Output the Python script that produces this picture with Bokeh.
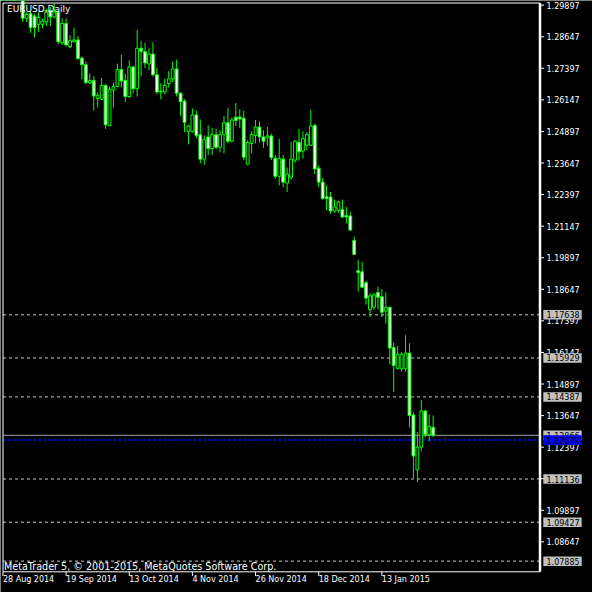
from bokeh.plotting import figure
from bokeh.models import Range1d
from bokeh.core.properties import value
from bokeh.embed import file_html
from bokeh.resources import INLINE

# ---- data: EURUSD daily bars, bar index 0 = 28 Aug 2014 ----
opens = [1.3190, 1.3180, 1.3135, 1.3130, 1.3128, 1.3150, 1.2938, 1.2956, 1.2946, 1.2914,
         1.2914, 1.2923, 1.2969, 1.2943, 1.2962, 1.2841, 1.2917, 1.2826, 1.2845, 1.2852,
         1.2780, 1.2754, 1.2683, 1.2692, 1.2620, 1.2617, 1.2672, 1.2512, 1.2653, 1.2668,
         1.2735, 1.2692, 1.2628, 1.2745, 1.2659, 1.2819, 1.2806, 1.2757, 1.2796, 1.2714,
         1.2649, 1.2646, 1.2679, 1.2698, 1.2737, 1.2641, 1.2610, 1.2490, 1.2490, 1.2555,
         1.2477, 1.2380, 1.2468, 1.2422, 1.2477, 1.2427, 1.2477, 1.2524, 1.2451, 1.2546,
         1.2547, 1.2542, 1.2360, 1.2442, 1.2474, 1.2507, 1.2468, 1.2464, 1.2472, 1.2383,
         1.2312, 1.2380, 1.2285, 1.2308, 1.2376, 1.2446, 1.2412, 1.2435, 1.2435, 1.2513,
         1.2344, 1.2289, 1.2231, 1.2230, 1.2175, 1.2177, 1.2181, 1.2157, 1.2155, 1.2058,
         1.1938, 1.1934, 1.1891, 1.1784, 1.1794, 1.1852, 1.1836, 1.1778, 1.1793, 1.1634,
         1.1552, 1.1550, 1.1550, 1.1612, 1.1367, 1.1150, 1.1240, 1.1383, 1.1289, 1.1318]
highs = [1.3205, 1.3190, 1.3150, 1.3145, 1.3170, 1.3160, 1.2962, 1.2969, 1.2956, 1.2962,
         1.2937, 1.2976, 1.2982, 1.2995, 1.2969, 1.2937, 1.2937, 1.2871, 1.2901, 1.2867,
         1.2787, 1.2767, 1.2719, 1.2708, 1.2644, 1.2702, 1.2676, 1.2667, 1.2683, 1.2758,
         1.2793, 1.2719, 1.2771, 1.2750, 1.2891, 1.2848, 1.2841, 1.2819, 1.2843, 1.2741,
         1.2680, 1.2698, 1.2728, 1.2767, 1.2774, 1.2645, 1.2617, 1.2516, 1.2581, 1.2572,
         1.2537, 1.2474, 1.2513, 1.2503, 1.2500, 1.2494, 1.2550, 1.2582, 1.2546, 1.2602,
         1.2578, 1.2572, 1.2455, 1.2490, 1.2535, 1.2529, 1.2494, 1.2507, 1.2481, 1.2396,
         1.2461, 1.2396, 1.2347, 1.2448, 1.2455, 1.2500, 1.2490, 1.2487, 1.2576, 1.2520,
         1.2355, 1.2305, 1.2276, 1.2250, 1.2220, 1.2216, 1.2220, 1.2191, 1.2172, 1.2073,
         1.1980, 1.1973, 1.1899, 1.1849, 1.1849, 1.1875, 1.1865, 1.1852, 1.1797, 1.1654,
         1.1641, 1.1617, 1.1683, 1.1651, 1.1378, 1.1300, 1.1426, 1.1387, 1.1370, 1.1365]
lows = [1.3160, 1.3130, 1.3115, 1.3110, 1.3110, 1.2923, 1.2923, 1.2880, 1.2862, 1.2884,
        1.2898, 1.2907, 1.2907, 1.2937, 1.2836, 1.2832, 1.2826, 1.2819, 1.2840, 1.2774,
        1.2696, 1.2676, 1.2676, 1.2572, 1.2585, 1.2613, 1.2500, 1.2511, 1.2585, 1.2664,
        1.2664, 1.2607, 1.2621, 1.2641, 1.2628, 1.2708, 1.2741, 1.2732, 1.2707, 1.2637,
        1.2617, 1.2637, 1.2663, 1.2685, 1.2628, 1.2550, 1.2487, 1.2438, 1.2485, 1.2464,
        1.2364, 1.2357, 1.2396, 1.2396, 1.2419, 1.2407, 1.2403, 1.2442, 1.2446, 1.2511,
        1.2503, 1.2376, 1.2356, 1.2403, 1.2442, 1.2446, 1.2425, 1.2433, 1.2376, 1.2302,
        1.2276, 1.2269, 1.2250, 1.2298, 1.2364, 1.2373, 1.2383, 1.2416, 1.2434, 1.2321,
        1.2269, 1.2220, 1.2177, 1.2164, 1.2168, 1.2168, 1.2146, 1.2125, 1.2097, 1.2001,
        1.1856, 1.1869, 1.1804, 1.1755, 1.1784, 1.1785, 1.1755, 1.1730, 1.1569, 1.1458,
        1.1547, 1.1539, 1.1539, 1.1318, 1.1117, 1.1101, 1.1224, 1.1279, 1.1263, 1.1279]
closes = [1.3180, 1.3135, 1.3130, 1.3128, 1.3150, 1.2938, 1.2953, 1.2901, 1.2901, 1.2941,
          1.2926, 1.2969, 1.2943, 1.2962, 1.2845, 1.2917, 1.2832, 1.2849, 1.2852, 1.2778,
          1.2754, 1.2683, 1.2692, 1.2630, 1.2633, 1.2672, 1.2516, 1.2657, 1.2668, 1.2735,
          1.2689, 1.2628, 1.2745, 1.2659, 1.2819, 1.2806, 1.2761, 1.2796, 1.2714, 1.2646,
          1.2646, 1.2672, 1.2698, 1.2737, 1.2641, 1.2607, 1.2526, 1.2511, 1.2555, 1.2474,
          1.2380, 1.2457, 1.2422, 1.2477, 1.2427, 1.2477, 1.2524, 1.2451, 1.2535, 1.2533,
          1.2539, 1.2388, 1.2446, 1.2477, 1.2507, 1.2468, 1.2451, 1.2472, 1.2386, 1.2312,
          1.2383, 1.2289, 1.2321, 1.2380, 1.2451, 1.2409, 1.2461, 1.2477, 1.2511, 1.2341,
          1.2289, 1.2224, 1.2224, 1.2175, 1.2191, 1.2211, 1.2151, 1.2151, 1.2099, 1.2003,
          1.1931, 1.1873, 1.1830, 1.1839, 1.1843, 1.1833, 1.1774, 1.1793, 1.1632, 1.1563,
          1.1608, 1.1608, 1.1612, 1.1365, 1.1205, 1.1240, 1.1383, 1.1289, 1.1322, 1.1287]

price_ticks = [1.29897, 1.28647, 1.27397, 1.26147, 1.24897, 1.23647, 1.22397, 1.21147, 1.19897,
               1.18647, 1.17397, 1.16147, 1.14897, 1.13647, 1.12397, 1.11147, 1.09897, 1.08647]
date_ticks = [0, 16, 32, 48, 64, 80, 96]
date_labels = ["28 Aug 2014", "19 Sep 2014", "13 Oct 2014", "4 Nov 2014",
               "26 Nov 2014", "18 Dec 2014", "13 Jan 2015"]
level_lines = [1.17638, 1.15929, 1.14387, 1.11136, 1.09427, 1.07885]
bid_price = 1.12866
blue_line = 1.12678

# ---- layout / style ----
FONT = value("DejaVu Sans")
GREEN = "#00ff00"
W = H = 592
XS, XE = -0.625, 149.37          # visible bar-index range over the whole canvas
YS, YE = 1.06643, 1.30081        # visible price range over the whole canvas
sx = (XE - XS) / W               # data units per pixel
sy = (YE - YS) / H


def X(px):
    return XS + px * sx


def Y(px):
    return YE - px * sy


p = figure(width=W, height=H, output_backend="svg", toolbar_location=None,
           x_range=Range1d(XS, XE), y_range=Range1d(YS, YE),
           x_axis_location=None, y_axis_location=None,
           min_border=0, min_border_left=0, min_border_right=0,
           min_border_top=0, min_border_bottom=0)
p.background_fill_color = "black"
p.border_fill_color = "black"
p.outline_line_color = None
p.xgrid.visible = False
p.ygrid.visible = False

box_l, box_r = X(2.5), X(539.5)
box_t, box_b = Y(2.5), Y(571.3)

# level lines
nl = len(level_lines)
p.segment(x0=[box_l] * nl, x1=[box_r] * nl, y0=level_lines, y1=level_lines,
          line_color="#c8c8c8", line_dash="3 3", line_width=1)
p.segment(x0=[box_l], x1=[box_r], y0=[bid_price], y1=[bid_price],
          line_color="#a0a0a0", line_width=1)
p.segment(x0=[box_l], x1=[box_r], y0=[blue_line], y1=[blue_line],
          line_color="#0000ff", line_dash="3 2", line_width=1.5)

# candles
idx = list(range(len(opens)))
tops = [max(o, c) for o, c in zip(opens, closes)]
bottoms = [min(o, c) for o, c in zip(opens, closes)]
fills = ["white" if c < o else "black" for o, c in zip(opens, closes)]
p.segment(x0=idx, y0=lows, x1=idx, y1=highs, line_color=GREEN, line_width=1)
p.vbar(x=idx, top=tops, bottom=bottoms, width=0.72,
       fill_color=fills, line_color=GREEN, line_width=1)

# chart box and price scale line
p.segment(x0=[box_l, box_l, box_l], y0=[box_b, box_t, box_b],
          x1=[box_l, box_r, box_r], y1=[box_t, box_t, box_b],
          line_color="white", line_width=1)
p.segment(x0=[box_r], y0=[box_b], x1=[box_r], y1=[box_t], line_color="white", line_width=2.5)

# price scale ticks and labels
nt = len(price_ticks)
p.segment(x0=[box_r] * nt, x1=[X(543.5)] * nt, y0=price_ticks, y1=price_ticks,
          line_color="white", line_width=1)
p.text(x=[X(546)] * nt, y=price_ticks, text=[f"{t:.5f}" for t in price_ticks],
       text_color="white", text_font=FONT, text_font_size="8px",
       text_baseline="middle", text_align="left")

# level price boxes
box_levels = level_lines + [bid_price]
nb = len(box_levels)
p.rect(x=[X(562)] * nb, y=box_levels, width=38.4 * sx, height=9.5 * sy,
       fill_color="#c0c0c0", line_color=None)
p.text(x=[X(546)] * nb, y=box_levels, text=[f"{v:.5f}" for v in box_levels],
       text_color="black", text_font=FONT, text_font_size="8px",
       text_baseline="middle", text_align="left")
p.rect(x=[X(562)], y=[blue_line], width=38.4 * sx, height=9.8 * sy,
       fill_color="#0000ff", line_color=None)
p.text(x=[X(546)], y=[blue_line], text=[f"{blue_line:.5f}"],
       text_color="black", text_font=FONT, text_font_size="8px",
       text_baseline="middle", text_align="left")

# time scale ticks and labels
nd = len(date_ticks)
p.segment(x0=date_ticks, x1=date_ticks, y0=[box_b] * nd, y1=[Y(575.5)] * nd,
          line_color="white", line_width=1)
p.text(x=date_ticks, y=[Y(574.8)] * nd, text=date_labels,
       text_color="white", text_font=FONT, text_font_size="8px",
       text_baseline="top", text_align="left")

# title and copyright
p.text(x=[X(6.5)], y=[Y(3.5)], text=["EURUSD,Daily"], text_color="white",
       text_font=FONT, text_font_size="9px", text_baseline="top", text_align="left")
p.text(x=[X(3.5)], y=[Y(565.5)],
       text=["MetaTrader 5, \u00a9 2001-2015, MetaQuotes Software Corp."],
       text_color="white", text_font=FONT, text_font_size="9.6px",
       text_baseline="alphabetic", text_align="left")

open("out.html", "w").write(file_html(p, INLINE))
